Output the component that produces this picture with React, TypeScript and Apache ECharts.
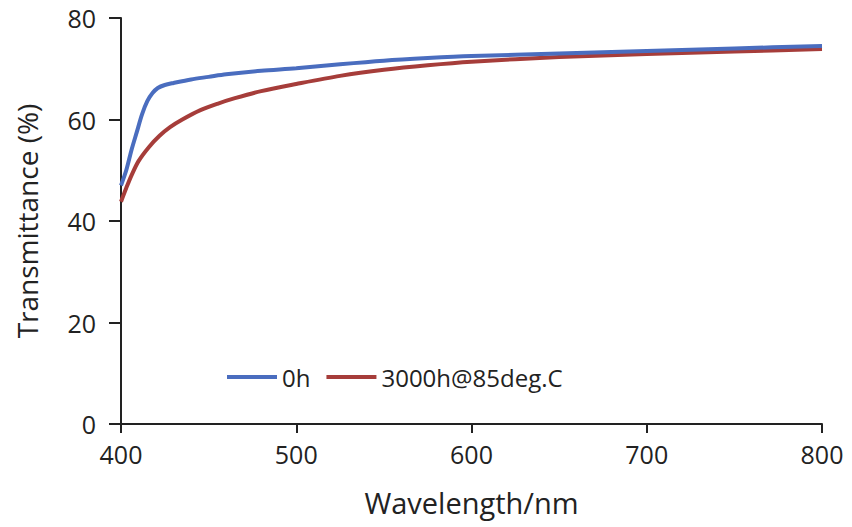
import React, { useEffect, useRef } from "react";
import * as echarts from "echarts";

const wavelengths0h = [400, 403, 406, 409, 412, 415, 418, 421, 425, 430, 440, 450, 460, 480, 500, 525, 550, 575, 600, 650, 700, 750, 800];
const values0h = [47, 50, 54, 57.5, 61, 63.6, 65.2, 66.2, 66.8, 67.2, 67.9, 68.4, 68.9, 69.6, 70.1, 70.9, 71.6, 72.1, 72.5, 73.0, 73.5, 74.0, 74.5];

const wavelengths3000h = [400, 403, 406, 410, 416, 422, 428, 435, 445, 455, 465, 480, 500, 525, 550, 575, 600, 650, 700, 750, 800];
const values3000h = [43.8, 46.5, 49, 51.8, 54.6, 56.8, 58.5, 60.0, 61.8, 63.1, 64.2, 65.6, 67.0, 68.6, 69.8, 70.7, 71.4, 72.3, 72.9, 73.4, 73.9];

const xTicks = [400, 500, 600, 700, 800];
const yTicks = [0, 20, 40, 60, 80];

const FONT = "'Open Sans', 'Liberation Sans', sans-serif";

export default function App() {
  const ref = useRef<HTMLDivElement>(null);
  useEffect(() => {
    if (!ref.current) return;
    const chart = echarts.init(ref.current, undefined, { renderer: "svg" });
    const axisLine = { show: true, lineStyle: { color: "#222", width: 2 } };
    chart.setOption({
      animation: false,
      backgroundColor: "#fff",
      grid: { left: 121, right: 30, top: 18, bottom: 103, containLabel: false },
      legend: {
        left: 222,
        top: 360,
        itemWidth: 50,
        itemHeight: 4,
        itemGap: 16,
        icon: "rect",
        textStyle: { fontFamily: FONT, fontSize: 24, color: "#222" },
        data: ["0h", "3000h@85deg.C"],
      },
      xAxis: {
        type: "value",
        min: xTicks[0],
        max: xTicks[xTicks.length - 1],
        interval: 100,
        name: "Wavelength/nm",
        nameLocation: "middle",
        nameGap: 64,
        nameTextStyle: { fontFamily: FONT, fontSize: 29, color: "#222" },
        axisLine,
        axisTick: { show: true, length: 9, lineStyle: { color: "#222", width: 2 } },
        axisLabel: { fontFamily: FONT, fontSize: 25, color: "#222", margin: 17 },
        splitLine: { show: false },
      },
      yAxis: {
        type: "value",
        min: yTicks[0],
        max: yTicks[yTicks.length - 1],
        interval: 20,
        name: "Transmittance (%)",
        nameLocation: "middle",
        nameGap: 80,
        nameTextStyle: { fontFamily: FONT, fontSize: 28, color: "#222" },
        axisLine,
        axisTick: { show: true, length: 12, lineStyle: { color: "#222", width: 2 } },
        axisLabel: { fontFamily: FONT, fontSize: 25, color: "#222", margin: 25 },
        splitLine: { show: false },
      },
      series: [
        {
          name: "0h",
          type: "line",
          smooth: 0.3,
          showSymbol: false,
          symbol: "none",
          itemStyle: { color: "#4A6DBF" },
          lineStyle: { color: "#4A6DBF", width: 4 },
          data: wavelengths0h.map((w, i) => [w, values0h[i]]),
          z: 3,
        },
        {
          name: "3000h@85deg.C",
          type: "line",
          smooth: 0.3,
          showSymbol: false,
          symbol: "none",
          itemStyle: { color: "#A63D3A" },
          lineStyle: { color: "#A63D3A", width: 4 },
          data: wavelengths3000h.map((w, i) => [w, values3000h[i]]),
          z: 2,
        },
      ],
    });
    return () => chart.dispose();
  }, []);
  return <div ref={ref} style={{ width: 852, height: 527, position: "absolute", left: 0, top: 0 }} />;
}
